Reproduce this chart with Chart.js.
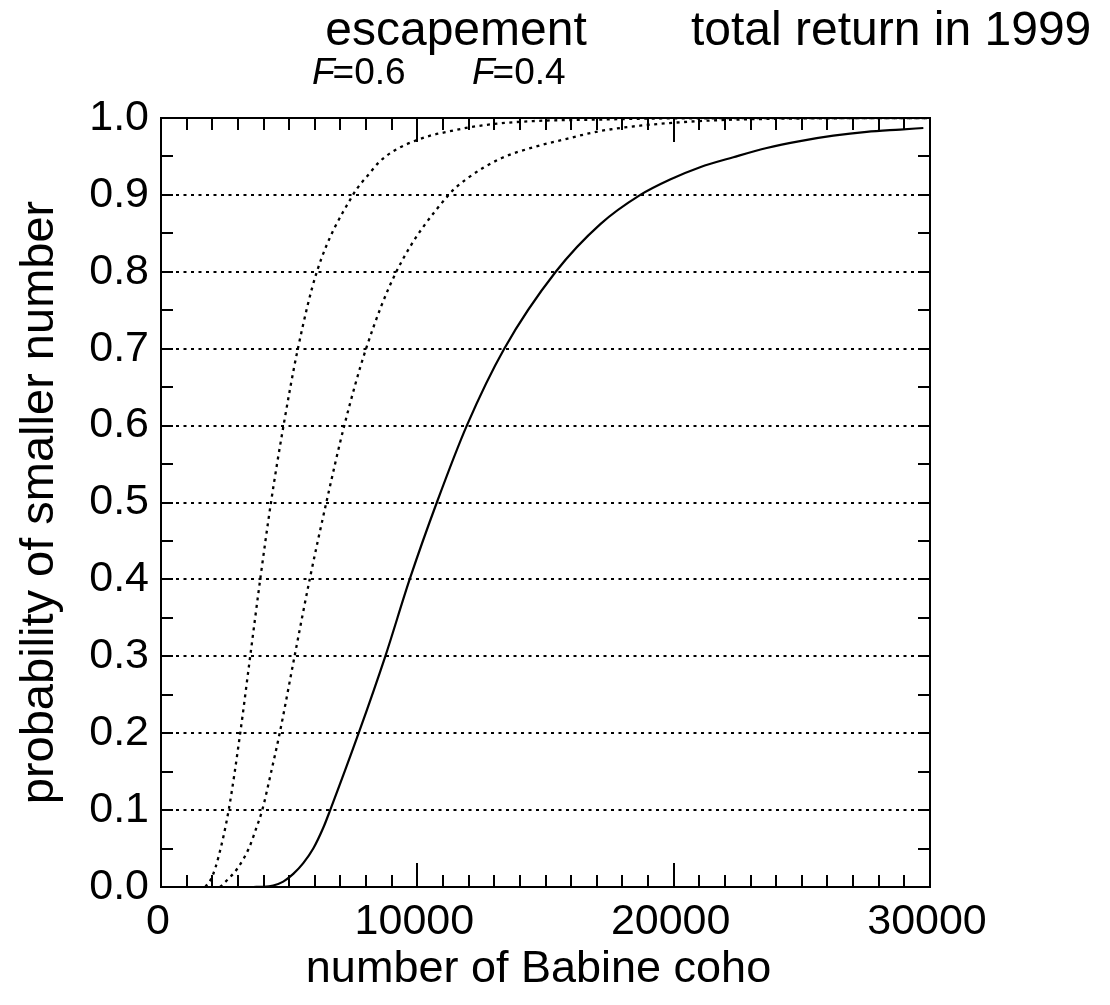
<!DOCTYPE html>
<html>
<head>
<meta charset="utf-8">
<script src="https://cdn.jsdelivr.net/npm/chart.js@4"></script>
<style>
html,body{margin:0;padding:0;background:#fff}
#wrap{width:1110px;height:1005px}
</style>
</head>
<body>
<div id="wrap"><canvas id="cdf"></canvas></div>
<script>
// cumulative probability curves, x = number of fish, p = probability of smaller number
const f06X = [1730, 1990, 2250, 2640, 3090, 3480, 3870, 4290, 4780, 5340, 6080, 7490, 8160, 8550, 9070, 9590, 10500, 11020, 12060, 13230, 14520, 17130, 20000, 30000];
const f06P = [0, 0.013, 0.04, 0.1, 0.2, 0.3, 0.4, 0.5, 0.6, 0.7, 0.8, 0.9, 0.929, 0.944, 0.957, 0.966, 0.977, 0.981, 0.988, 0.993, 0.996, 0.998, 0.9995, 1.0];

const f04X = [2300, 2430, 3000, 3450, 3700, 3950, 4300, 4630, 5210, 5800, 6450, 7150, 8000, 9180, 11220, 11930, 13230, 14530, 15830, 17130, 18690, 21000, 24000, 30000];
const f04P = [0, 0.004, 0.025, 0.052, 0.075, 0.1, 0.15, 0.2, 0.3, 0.4, 0.5, 0.6, 0.7, 0.8, 0.9, 0.921, 0.947, 0.962, 0.973, 0.983, 0.990, 0.996, 0.999, 1.0];

const totalX = [3600, 4000, 4380, 4770, 5160, 5550, 5940, 6330, 6600, 7710, 8750, 9700, 10760, 11930, 13390, 15400, 17140, 18700, 19860, 21030, 22330, 23630, 24930, 26230, 27530, 28830, 29740];
const totalP = [0, 0.0003, 0.002, 0.007, 0.017, 0.031, 0.05, 0.077, 0.1, 0.2, 0.3, 0.4, 0.5, 0.6, 0.7, 0.8, 0.862, 0.9, 0.92, 0.936, 0.949, 0.961, 0.970, 0.977, 0.982, 0.985, 0.987];

const xTicks = [0, 10000, 20000, 30000];
const yTicks = [0, 0.1, 0.2, 0.3, 0.4, 0.5, 0.6, 0.7, 0.8, 0.9, 1.0];

const toPts = (xs, ps) => xs.map((v, i) => ({x: v, y: ps[i]}));

const FONT = '"Liberation Sans", Arial, Helvetica, sans-serif';
Chart.defaults.font.family = FONT;
Chart.defaults.color = '#000';

// frame, inward ticks, dotted grid and the labels above the plot
const frame = {
  id: 'frame',
  beforeDatasetsDraw(chart) {
    const {ctx, chartArea: a, scales: {x, y}} = chart;
    ctx.save();
    ctx.strokeStyle = '#000';
    ctx.lineWidth = 2;

    ctx.setLineDash([3, 4.5]);
    y.ticks.forEach(t => {
      if (t.value <= 0 || t.value >= 1) return;
      const py = Math.round(y.getPixelForValue(t.value));
      ctx.beginPath();
      ctx.moveTo(a.left, py);
      ctx.lineTo(a.right, py);
      ctx.stroke();
    });
    ctx.setLineDash([]);

    ctx.beginPath();
    for (let v = 1000; v < 30000; v += 1000) {
      const px = Math.round(x.getPixelForValue(v));
      const len = v % 10000 === 0 ? 24 : 12;
      ctx.moveTo(px, a.bottom); ctx.lineTo(px, a.bottom - len);
      ctx.moveTo(px, a.top); ctx.lineTo(px, a.top + len);
    }
    for (let i = 1; i < 20; i++) {
      const py = Math.round(y.getPixelForValue(i * 0.05));
      ctx.moveTo(a.left, py); ctx.lineTo(a.left + 12, py);
      ctx.moveTo(a.right, py); ctx.lineTo(a.right - 12, py);
    }
    ctx.stroke();

    ctx.strokeRect(a.left, a.top, a.right - a.left, a.bottom - a.top);
    ctx.restore();
  },
  afterDraw(chart) {
    const {ctx, chartArea: a} = chart;
    ctx.save();
    ctx.fillStyle = '#000';
    ctx.textBaseline = 'alphabetic';

    ctx.font = '48px ' + FONT;
    ctx.textAlign = 'center';
    ctx.fillText('escapement', a.left + 295, 45);
    ctx.textAlign = 'left';
    ctx.fillText('total return in 1999', a.left + 530, 45);

    // F labels: italic F, plain rest
    const fLabel = (txt, left) => {
      ctx.font = 'italic 37px ' + FONT;
      ctx.fillText('F', left, 84);
      const w = ctx.measureText('F').width;
      ctx.font = '37px ' + FONT;
      ctx.fillText(txt, left + w - 2, 84);
    };
    fLabel('=0.6', a.left + 151);
    fLabel('=0.4', a.left + 311);

    // x axis title, a little left of the plot centre
    ctx.font = '45px ' + FONT;
    ctx.textAlign = 'center';
    ctx.fillText('number of Babine coho', (a.left + a.right) / 2 - 7, 982);
    ctx.restore();
  }
};

const curve = (label, xs, ps, dash) => ({
  label: label,
  data: toPts(xs, ps),
  borderColor: '#000',
  borderWidth: dash ? 2.3 : 2.2,
  borderDash: dash || [],
  pointRadius: 0,
  cubicInterpolationMode: 'monotone'
});

new Chart(document.getElementById('cdf'), {
  type: 'line',
  data: {
    datasets: [
      curve('escapement F=0.6', f06X, f06P, [3, 4.5]),
      curve('escapement F=0.4', f04X, f04P, [3, 4.5]),
      curve('total return in 1999', totalX, totalP, null)
    ]
  },
  options: {
    responsive: true,
    maintainAspectRatio: false,
    animation: false,
    layout: {padding: {top: 118, right: 180, left: 0, bottom: 0}},
    plugins: {legend: {display: false}, tooltip: {enabled: false}},
    scales: {
      x: {
        type: 'linear',
        min: 0, max: 30000,
        afterBuildTicks: s => { s.ticks = xTicks.map(v => ({value: v})); },
        afterFit: s => { s.height = 118; },
        grid: {display: false, drawTicks: false},
        border: {display: false},
        ticks: {font: {size: 43}, padding: 9, labelOffset: -3, maxRotation: 0, callback: v => String(v)},
        title: {display: false}
      },
      y: {
        type: 'linear',
        min: 0, max: 1,
        afterBuildTicks: s => { s.ticks = yTicks.map(v => ({value: v})); },
        afterFit: s => { s.width = 161; },
        grid: {display: false, drawTicks: false},
        border: {display: false},
        ticks: {font: {size: 43}, padding: 12, callback: v => v.toFixed(1)},
        title: {display: true, text: 'probability of smaller number', font: {size: 47}, padding: {top: 12, bottom: 0}}
      }
    }
  },
  plugins: [frame]
});
</script>
</body>
</html>
